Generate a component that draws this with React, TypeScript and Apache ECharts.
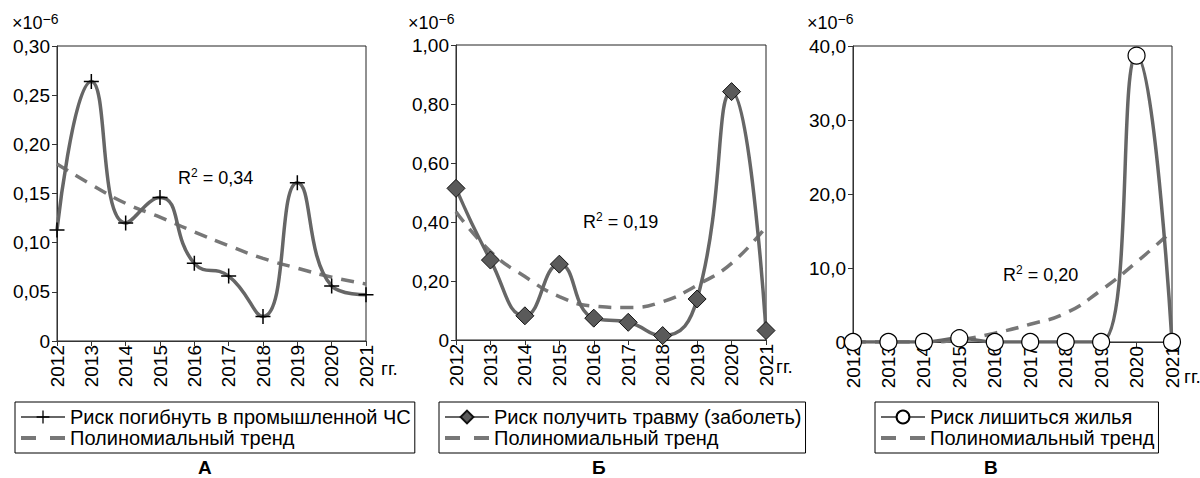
import React, { useEffect, useRef } from "react";
import * as echarts from "echarts";

// Years shared by all three panels
const years = ["2012", "2013", "2014", "2015", "2016", "2017", "2018", "2019", "2020", "2021"];

// Panel А: risk of death in an industrial emergency, ×10^-6
const riskDeath = [0.113, 0.264, 0.12, 0.146, 0.079, 0.066, 0.025, 0.161, 0.056, 0.047];
const trendDeath = [0.18, 0.159, 0.14, 0.126, 0.111, 0.097, 0.084, 0.074, 0.065, 0.058];

// Panel Б: risk of injury (illness), ×10^-6
const riskInjury = [0.514, 0.271, 0.082, 0.257, 0.074, 0.06, 0.015, 0.139, 0.842, 0.032];
const trendInjury = [0.435, 0.3, 0.215, 0.147, 0.115, 0.11, 0.13, 0.186, 0.26, 0.384];

// Panel В: risk of losing housing, ×10^-6
const riskHousing = [0, 0, 0, 0.5, 0, 0, 0, 0, 38.7, 0];
const trendHousing = [0, 0, 0, 0.3, 1.2, 2.4, 3.9, 7.0, 10.8, 15.0];

const nameDeath = "Риск погибнуть в промышленной ЧС";
const nameInjury = "Риск получить травму (заболеть)";
const nameHousing = "Риск лишиться жилья";
const nameTrend = "Полиномиальный тренд";

const FONT = "'Liberation Sans', Arial, sans-serif";
const LINE = "#666";
const TREND = "#777";

const plusPath = "path://M4.5,0 H5.5 V4.5 H10 V5.5 H5.5 V10 H4.5 V5.5 H0 V4.5 H4.5 Z";
// two short dashes for the trend entry of the legends
const dashIcon = "path://M0,0 H15 V4 H0 Z M29,0 H44 V4 H29 Z";

const grids = [
  { left: 57, top: 46, width: 309, height: 295 },
  { left: 456, top: 45, width: 310, height: 295 },
  { left: 853, top: 46, width: 319, height: 296 },
];

const fmt2 = (v: number) => (v === 0 ? "0" : v.toFixed(2).replace(".", ","));
const fmt1 = (v: number) => (v === 0 ? "0" : v.toFixed(1).replace(".", ","));

const scaleText = (x: number, y: number) => ({
  type: "text",
  left: x,
  top: y,
  style: {
    text: "{a|×10}{s|−6}",
    rich: {
      a: { fontSize: 18, fontFamily: FONT, fill: "#000", verticalAlign: "bottom", lineHeight: 20 },
      s: { fontSize: 14, fontFamily: FONT, fill: "#000", verticalAlign: "top", lineHeight: 20, padding: [0, 0, 9, 0] },
    },
  },
});

const r2Text = (x: number, y: number, val: string) => ({
  type: "text",
  left: x,
  top: y,
  style: {
    text: `{a|R}{s|2}{a| = ${val}}`,
    rich: {
      a: { fontSize: 18, fontFamily: FONT, fill: "#000", lineHeight: 20 },
      s: { fontSize: 12, fontFamily: FONT, fill: "#000", lineHeight: 20, padding: [0, 0, 9, 0] },
    },
  },
});

const plainText = (x: number, y: number, text: string, size: number, weight = "normal") => ({
  type: "text",
  left: x,
  top: y,
  style: { text, fontSize: size, fontFamily: FONT, fill: "#000", fontWeight: weight },
});

export default function App() {
  const ref = useRef<HTMLDivElement>(null);

  useEffect(() => {
    if (!ref.current) return;
    const chart = echarts.init(ref.current, undefined, { renderer: "svg" });

    const xAxes = grids.map((_, i) => ({
      type: "category",
      gridIndex: i,
      data: years,
      boundaryGap: false,
      axisLine: { lineStyle: { color: "#333", width: 1 } },
      axisTick: { show: true, length: 5, lineStyle: { color: "#333" } },
      axisLabel: { rotate: 90, fontSize: 19, fontFamily: FONT, color: "#000", margin: 4 },
      splitLine: { show: false },
    }));

    const yMax = [0.3, 1.0, 40];
    const yStep = [0.05, 0.2, 10];
    const yFmt = [fmt2, fmt2, fmt1];
    const yAxes = grids.map((_, i) => ({
      type: "value",
      gridIndex: i,
      min: 0,
      max: yMax[i],
      interval: yStep[i],
      axisLine: { show: true, lineStyle: { color: "#333", width: 1 } },
      axisTick: { show: true, length: 5, lineStyle: { color: "#333" } },
      axisLabel: { fontSize: 19, fontFamily: FONT, color: "#000", margin: 7, formatter: yFmt[i] },
      splitLine: { show: false },
    }));

    const trendSeries = (i: number, data: number[]) => ({
      name: nameTrend,
      type: "line",
      xAxisIndex: i,
      yAxisIndex: i,
      data,
      smooth: true,
      symbol: "none",
      lineStyle: { color: TREND, width: 3.5, type: [13, 9] },
      itemStyle: { color: TREND },
      z: 3,
    });

    const option = {
      animation: false,
      backgroundColor: "#fff",
      grid: grids.map((g) => ({ ...g, show: true, borderColor: "#222", borderWidth: 1, backgroundColor: "transparent" })),
      xAxis: xAxes,
      yAxis: yAxes,
      legend: [
        { left: 15, top: 402, data: [nameDeath, { name: nameTrend, icon: dashIcon }] },
        { left: 439, top: 402, data: [nameInjury, { name: nameTrend, icon: dashIcon }] },
        { left: 875, top: 402, data: [nameHousing, { name: nameTrend, icon: dashIcon }] },
      ].map((l) => ({
        ...l,
        orient: "vertical",
        borderColor: "#000",
        borderWidth: 1,
        padding: [5, 4, 5, 5],
        itemGap: 1,
        itemWidth: 44,
        itemHeight: 16,
        selectedMode: false,
        textStyle: { fontSize: 20, fontFamily: FONT, color: "#000" },
      })),
      series: [
        {
          name: nameDeath,
          type: "line",
          xAxisIndex: 0,
          yAxisIndex: 0,
          data: riskDeath,
          smooth: true,
          symbol: plusPath,
          symbolSize: 15,
          lineStyle: { color: LINE, width: 3.5 },
          itemStyle: { color: "#000" },
          z: 4,
        },
        trendSeries(0, trendDeath),
        {
          name: nameInjury,
          type: "line",
          xAxisIndex: 1,
          yAxisIndex: 1,
          data: riskInjury,
          smooth: true,
          symbol: "diamond",
          symbolSize: 18,
          lineStyle: { color: LINE, width: 3.5 },
          itemStyle: { color: "#5a5a5a", borderColor: "#111", borderWidth: 1 },
          z: 4,
        },
        trendSeries(1, trendInjury),
        {
          name: nameHousing,
          type: "line",
          xAxisIndex: 2,
          yAxisIndex: 2,
          data: riskHousing,
          smooth: true,
          symbol: "circle",
          symbolSize: 17,
          lineStyle: { color: LINE, width: 3.5 },
          itemStyle: { color: "#fff", borderColor: "#000", borderWidth: 1.2 },
          z: 4,
        },
        trendSeries(2, trendHousing),
      ],
      graphic: [
        scaleText(12, 12),
        scaleText(408, 12),
        scaleText(807, 12),
        r2Text(178, 167, "0,34"),
        r2Text(583, 211, "0,19"),
        r2Text(1003, 264, "0,20"),
        plainText(381, 359, "гг.", 19),
        plainText(776, 357, "гг.", 19),
        plainText(1184, 367, "гг.", 19),
        plainText(198, 458, "А", 19, "bold"),
        plainText(592, 458, "Б", 19, "bold"),
        plainText(984, 458, "В", 19, "bold"),
      ],
    };

    chart.setOption(option as any);
    return () => chart.dispose();
  }, []);

  return (
    <div
      ref={ref}
      style={{ position: "fixed", left: 0, top: 0, width: 1200, height: 478, background: "#fff" }}
    />
  );
}
